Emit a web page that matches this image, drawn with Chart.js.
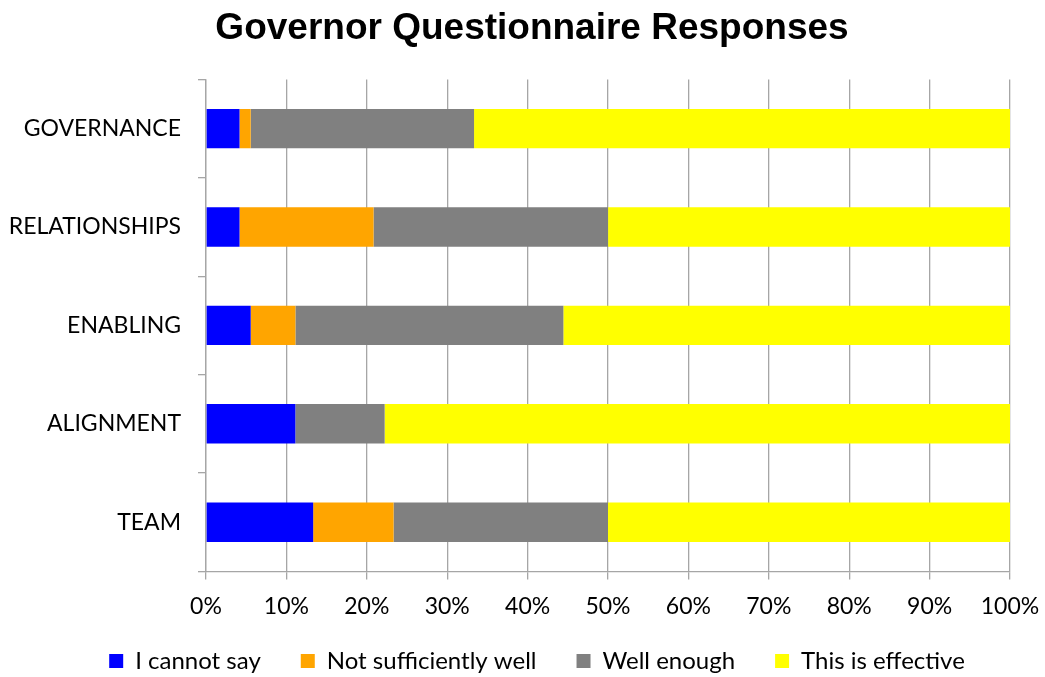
<!DOCTYPE html>
<html>
<head>
<meta charset="utf-8">
<script src="https://cdn.jsdelivr.net/npm/chart.js@4/dist/chart.umd.min.js"></script>
<style>
  html, body { margin: 0; padding: 0; background: #ffffff; }
  #wrap { width: 1045px; height: 677px; position: relative; }
</style>
</head>
<body>
<div id="wrap"><canvas id="c" width="1045" height="677"></canvas></div>
<script>
const categories = ["GOVERNANCE", "RELATIONSHIPS", "ENABLING", "ALIGNMENT", "TEAM"];
const seriesNames = ["I cannot say", "Not sufficiently well", "Well enough", "This is effective"];
const cannotSay = [4.17, 4.17, 5.56, 11.11, 13.33];
const notSufficiently = [1.39, 16.67, 5.56, 0, 10.0];
const wellEnough = [27.78, 29.17, 33.33, 11.11, 26.67];
const effective = [66.67, 50.0, 55.56, 77.78, 50.0];
const xTicks = [0, 10, 20, 30, 40, 50, 60, 70, 80, 90, 100];
const colors = ["#0000ff", "#ffa500", "#808080", "#ffff00"];

const bodyFont = "Lato, 'Open Sans', sans-serif";
const gridColor = "#a6a6a6";

const values = [cannotSay, notSufficiently, wellEnough, effective];
const datasets = seriesNames.map((name, i) => ({
  label: name,
  data: values[i],
  backgroundColor: colors[i],
  borderWidth: 0,
  barPercentage: 0.4,
  categoryPercentage: 1.0
}));

// shift title and legend boxes to match the original layout
const boxShift = {
  id: "boxShift",
  afterLayout(chart) {
    if (chart.titleBlock) { chart.titleBlock.left = 19; chart.titleBlock.right = 1045; }
    if (chart.legend) {
      const h = chart.legend.height;
      chart.legend.left = 52; chart.legend.right = 1022;
      chart.legend.top = 609; chart.legend.bottom = 609 + h;
    }
  }
};

new Chart(document.getElementById("c"), {
  type: "bar",
  data: { labels: categories, datasets },
  plugins: [boxShift],
  options: {
    indexAxis: "y",
    responsive: false,
    animation: false,
    layout: { padding: { left: 8, right: 35, top: 0, bottom: -30 } },
    plugins: {
      title: {
        display: true,
        text: "Governor Questionnaire Responses",
        color: "#000000",
        font: { family: "'Liberation Sans', Arial, sans-serif", size: 37, weight: "bold" },
        padding: { top: 7, bottom: 28 }
      },
      legend: {
        position: "bottom",
        labels: {
          color: "#000000",
          font: { family: bodyFont, size: 24 },
          boxWidth: 14,
          boxHeight: 14,
          padding: 40
        }
      },
      tooltip: { enabled: false }
    },
    scales: {
      x: {
        stacked: true,
        min: 0,
        max: 100,
        afterBuildTicks: (scale) => { scale.ticks = xTicks.map(v => ({ value: v })); },
        afterFit: (scale) => { scale.paddingLeft = 0; scale.paddingRight = 0; },
        ticks: {
          color: "#000000",
          font: { family: bodyFont, size: 23 },
          padding: 13,
          maxRotation: 0,
          callback: (v) => v + "%"
        },
        grid: { color: gridColor, lineWidth: 1.3, tickLength: 8, drawTicks: true },
        border: { color: gridColor, width: 1.3 }
      },
      y: {
        stacked: true,
        afterFit: (scale) => { scale.width = 198; },
        ticks: {
          color: "#000000",
          font: { family: bodyFont, size: 23 },
          padding: 17
        },
        grid: { offset: true, drawOnChartArea: false, color: gridColor, lineWidth: 1.3, tickLength: 8 },
        border: { color: gridColor, width: 1.3 }
      }
    }
  }
});
</script>
</body>
</html>
